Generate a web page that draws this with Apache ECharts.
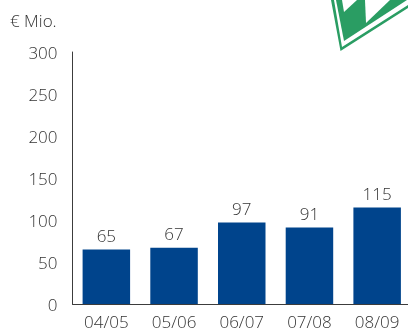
<!DOCTYPE html>
<html>
<head>
<meta charset="utf-8">
<style>html,body{margin:0;padding:0;background:#fff}#chart{width:408px;height:329px}</style>
<script src="https://cdn.jsdelivr.net/npm/echarts@6/dist/echarts.min.js"></script>
</head>
<body>
<div id="chart"></div>
<script>
const categories = ['04/05', '05/06', '06/07', '07/08', '08/09'];
const revenue = [65, 67, 97, 91, 115];
const unitLabel = '€ Mio.';
const green = '#2a9d63';
const font = '"Open Sans"';
const ink = '#333';

const chart = echarts.init(document.getElementById('chart'), null, { renderer: 'canvas' });
chart.setOption({
  animation: false,
  backgroundColor: '#fff',
  textStyle: { fontFamily: font },
  grid: { left: 72.5, right: -3, top: 52, bottom: 25, outerBoundsMode: 'none' },
  xAxis: {
    type: 'category',
    data: categories,
    axisLine: { lineStyle: { color: '#3c3c3c', width: 1 } },
    axisTick: { show: false },
    axisLabel: { color: ink, fontSize: 17, fontWeight: 300, margin: 11 }
  },
  yAxis: {
    type: 'value',
    min: 0,
    max: 300,
    interval: 50,
    axisLine: { show: true, lineStyle: { color: '#3c3c3c', width: 1 } },
    axisTick: { show: false },
    splitLine: { show: false },
    // A short top-aligned line box sets the tick text slightly below its tick
    axisLabel: { color: ink, fontSize: 17, fontWeight: 300, margin: 15, verticalAlign: 'top', lineHeight: 4 }
  },
  series: [{
    type: 'bar',
    data: revenue,
    barWidth: 47.5,
    itemStyle: { color: '#00448c' },
    label: { show: true, position: 'top', distance: 4, color: ink, fontSize: 17, fontWeight: 300 }
  }],
  graphic: [
    { type: 'text', left: 10, top: 14, style: { text: unitLabel, fill: ink, fontSize: 17, fontWeight: 300, fontFamily: font } },
    // Club crest, cropped by the top edge
    { type: 'polygon', shape: { points: [[331, 0], [340.5, 51], [408, 8], [408, 5], [342, 47], [334, 0]] }, style: { fill: green } },
    { type: 'polygon', shape: { points: [[336, 0], [344, 41], [407, 0]] }, style: { fill: green } },
    { type: 'polygon', shape: { points: [[342, 0], [344, 12], [357, 0]] }, style: { fill: '#fff' } },
    { type: 'polygon', shape: { points: [[366, 23], [365, 0], [390, 0]] }, style: { fill: '#fff' } }
  ]
});
</script>
</body>
</html>
